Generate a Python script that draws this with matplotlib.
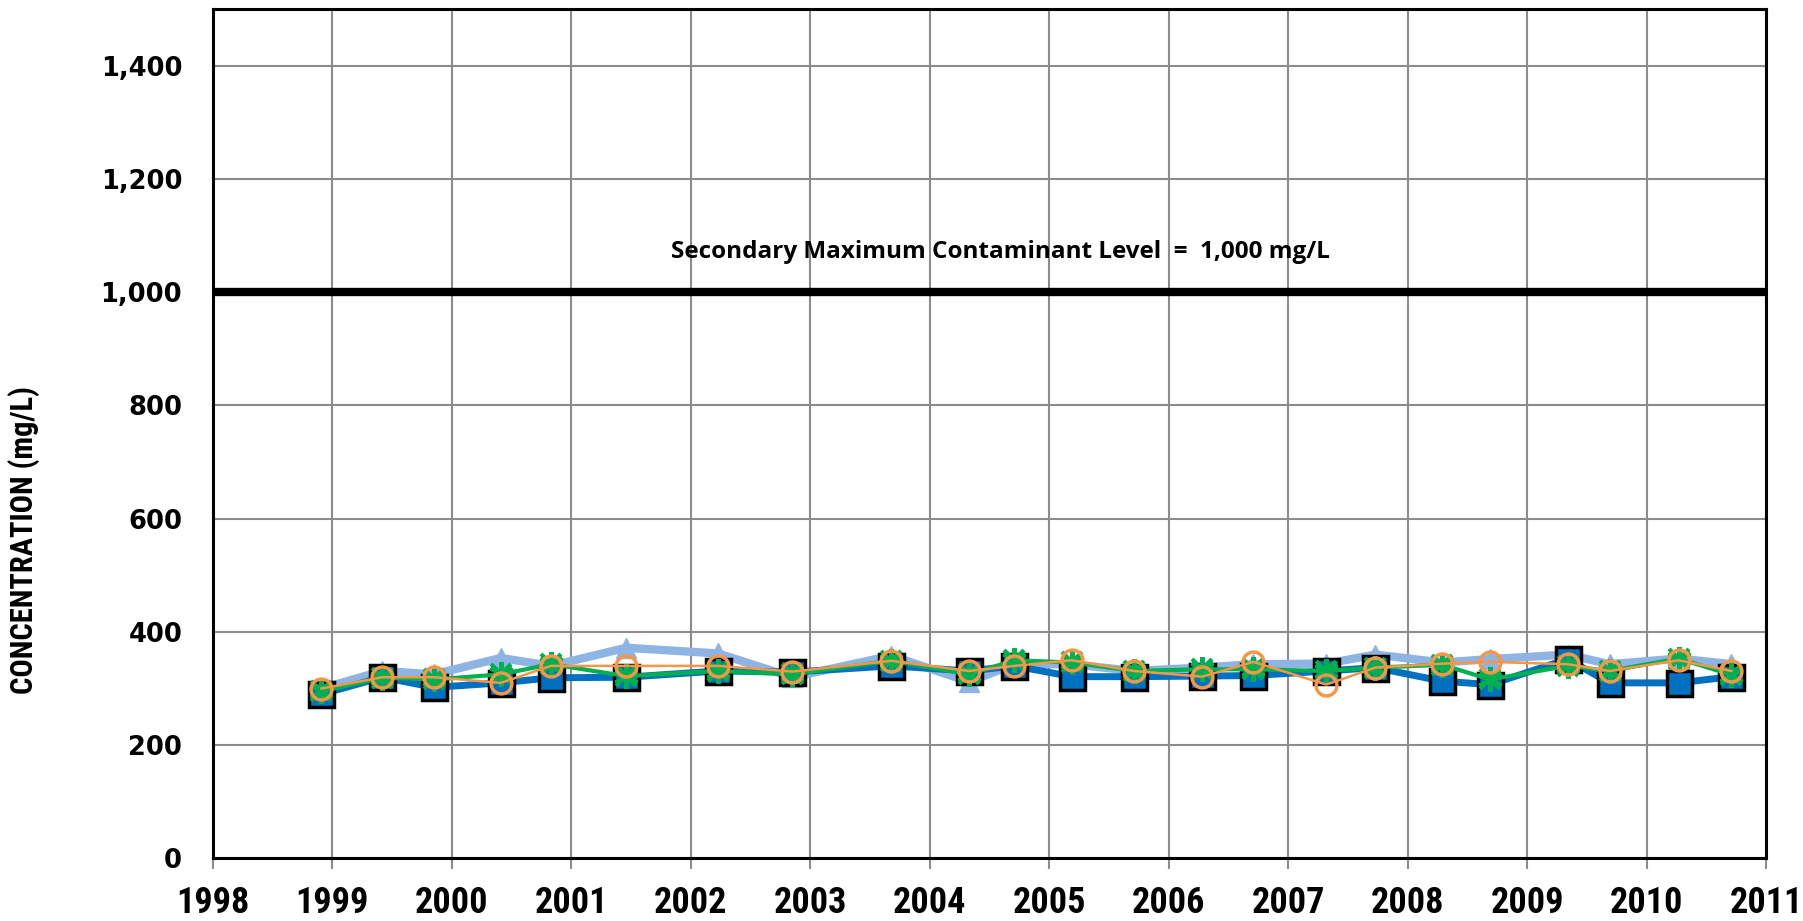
import numpy as np
import matplotlib
matplotlib.use("Agg")
import matplotlib.pyplot as plt
from matplotlib.ticker import FuncFormatter
from matplotlib import font_manager

# sample dates (decimal years) and concentrations (mg/L)
dates = [1998.91, 1999.42, 1999.85, 2000.41, 2000.83, 2001.46, 2002.23, 2002.85,
         2003.68, 2004.33, 2004.71, 2005.19, 2005.71, 2006.28, 2006.71, 2007.32,
         2007.73, 2008.29, 2008.69, 2009.34, 2009.69, 2010.27, 2010.71]

well_a = [290, 320, 302, 310, 319, 320, 331, 329, 340, 331, 340, 321, 321, 322,
          323, 331, 337, 313, 307, 352, 310, 310, 321]
well_b = [300, 331, 325, 354, 340, 372, 362, 320, 358, 312, 343, 343, 331, 337,
          343, 344, 360, 346, 352, 360, 343, 353, 343]
well_c = [295, 319, 316, 325, 343, 322, 331, 325, 349, 325, 350, 346, 331, 334,
          334, 331, 337, 342, 316, 340, 331, 353, 324]
well_d = [300, 320, 320, 310, 340, 340, 340, 330, 349, 331, 340, 350, 331, 321,
          347, 307, 337, 344, 347, 343, 331, 350, 331]

smcl = 1000
years = list(range(1998, 2012))
yticks = list(range(0, 1401, 200))

installed = {f.name for f in font_manager.fontManager.ttflist}
narrow = [n for n in ["Liberation Sans Narrow", "DejaVu Sans Condensed",
                      "Roboto Condensed", "Roboto"] if n in installed][:1] or ["DejaVu Sans"]

fig = plt.figure(figsize=(18.03, 9.21), dpi=100)
ax = fig.add_axes([0.118, 0.068, 0.8615, 0.922])

ax.plot(dates, well_b, color="#8EB4E3", lw=6, marker="^", ms=14,
        mfc="#8EB4E3", mec="#8EB4E3", zorder=3)
ax.plot(dates, well_a, color="#0070C0", lw=5, marker="s", ms=18,
        mfc="#0070C0", mec="black", mew=2.5, zorder=4)
ax.plot(dates, well_c, color="#00B050", lw=3, marker=(6, 2, 0), ms=18,
        mec="#00B050", mew=3, zorder=5)
ax.plot(dates, well_c, color="none", marker="x", ms=14,
        mec="#00B050", mew=3, zorder=5)
ax.plot(dates, well_d, color="#F79646", lw=1.8, marker="o", ms=15,
        mfc="none", mec="#F79646", mew=2.5, zorder=6)

ax.axhline(smcl, color="black", lw=6, zorder=7)
ax.text(2004.59, 1072, "Secondary Maximum Contaminant Level  =  1,000 mg/L",
        ha="center", va="center", fontsize=17.5, fontweight="bold",
        family="Open Sans")

ax.set_xlim(1998, 2011)
ax.set_ylim(0, 1500)
ax.set_xticks(years)
ax.set_yticks(yticks)
ax.yaxis.set_major_formatter(FuncFormatter(lambda v, p: f"{int(v):,}"))
ax.grid(True, color="#8c8c8c", lw=1.5)
ax.set_axisbelow(True)

for lab in ax.get_xticklabels():
    lab.set_family(narrow)
    lab.set_fontweight("bold")
    lab.set_fontsize(26)
for lab in ax.get_yticklabels():
    lab.set_family("DejaVu Sans")
    lab.set_fontweight("bold")
    lab.set_fontsize(18.5)

ax.tick_params(axis="x", length=8, color="#8c8c8c", width=1.5, pad=11)
ax.tick_params(axis="y", length=0, pad=22)
ax.set_ylabel("CONCENTRATION (mg/L)", fontsize=22, fontweight="bold",
              family=narrow)
ax.yaxis.set_label_coords(-0.111, 0.375)

for s in ax.spines.values():
    s.set_color("black")
    s.set_linewidth(2.2)

fig.savefig("out.png", dpi=100)
